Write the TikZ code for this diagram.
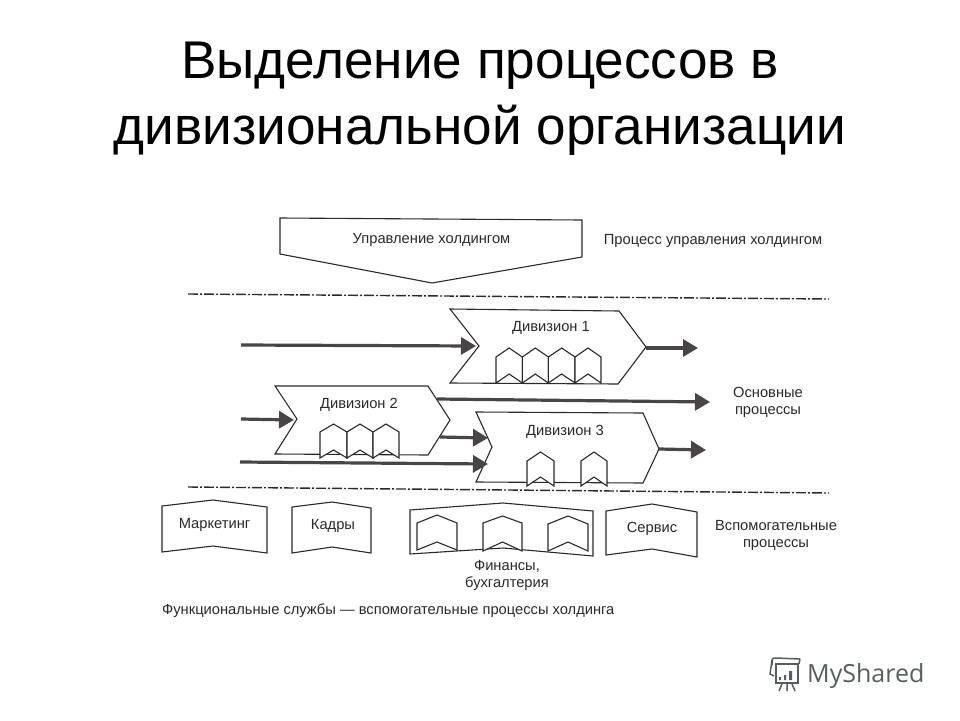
\documentclass[tikz,border=0pt]{standalone}
\usepackage{fontspec}
\setmainfont{Liberation Sans}
\newfontfamily\brandfont{Open Sans}
\usetikzlibrary{arrows.meta}
\definecolor{ink}{HTML}{2A2A2A}
\definecolor{arrowink}{HTML}{4A4545}
\definecolor{brand}{HTML}{55605E}
\tikzset{
  titletext/.style={font=\fontsize{53.1}{60}\selectfont,text=black,inner sep=0pt,anchor=base},
  small/.style={font=\fontsize{14.7}{17.5}\selectfont,text=ink,inner sep=0pt,align=center},
  outline/.style={draw=ink,line width=1.1pt,fill=white,line join=miter},
  hexa/.style={draw=ink,line width=1.1pt,fill=white,line join=miter},
  sepline/.style={draw=ink,line width=1.4pt,dash pattern=on 10pt off 2pt on 2pt off 2pt},
  flow/.style={draw=arrowink,line width=3.2pt,-{Triangle[length=15pt,width=17pt,fill=arrowink]},shorten >=0pt},
  brandline/.style={draw=brand,line width=1.5pt}
}
\newcommand{\hexbox}[6]{%
  \path[hexa] (#1,#5) -- (#1,#4) -- ({(#1+#2)/2},#3) -- (#2,#4) -- (#2,#5) -- ({(#1+#2)/2},#6) -- cycle;}
\begin{document}
\begin{tikzpicture}[x=1pt,y=-1pt]
\useasboundingbox (0,0) rectangle (960,720);
\fill[white] (0,0) rectangle (960,720);

% title
\node[titletext] (t1) at (480,78) {Выделение процессов в};
\node[titletext] (t2) at (480,144) {дивизиональной организации};

% separators
\coordinate (s1a) at (188,294); \coordinate (s1b) at (829,299);
\coordinate (s2a) at (188,487); \coordinate (s2b) at (829,493);
\draw[sepline] (s1a) -- (s1b);
\draw[sepline] (s2a) -- (s2b);

% holding management
\path[outline] (280,218) -- (582,220) -- (582,257) -- (432,283) -- (280,254) -- cycle;
\node[small] (hold) at (431.5,239.5) {Управление холдингом};
\node[small] (holdp) at (713,241) {Процесс управления холдингом};

% named connector ends
\coordinate (d1in) at (241,345);   \coordinate (d1notch) at (476,346);
\coordinate (d1tip) at (646,348);  \coordinate (d1out) at (698,348);
\coordinate (d2in) at (241,419);   \coordinate (d2notch) at (294,420);
\coordinate (d2a) at (437,399);    \coordinate (d2ae) at (710,402);
\coordinate (d2b) at (440,437);    \coordinate (d3n1) at (488,438);
\coordinate (d3in) at (240,462);   \coordinate (d3n2) at (488,464);
\coordinate (d3tip) at (659,449);  \coordinate (d3out) at (706,450);

% division 1
\path[outline] (450,309) -- (619,311) -- (646,347) -- (618,384) -- (450,383) -- (479,346) -- cycle;
\node[small] (d1) at (551,328) {Дивизион 1};
\hexbox{496}{522.3}{348}{357}{383}{374}
\hexbox{522.3}{548.3}{348}{357}{383}{374}
\hexbox{548.3}{575}{348}{357}{383}{374}
\hexbox{575}{601}{348}{357}{383}{374}

% division 2
\path[outline] (275,386) -- (428,386) -- (450,420) -- (428,455) -- (275,454) -- (297,419) -- cycle;
\node[small] (d2) at (359,405) {Дивизион 2};
\hexbox{320}{347}{424}{432}{458}{450}
\hexbox{347}{373}{424}{432}{458}{450}
\hexbox{373}{399}{424}{432}{458}{450}

% division 3
\path[outline] (476,412) -- (643,413) -- (659,449) -- (643,483) -- (476,482) -- (492,447) -- cycle;
\node[small] (d3) at (565,432) {Дивизион 3};
\hexbox{527}{554}{452}{461}{486}{477}
\hexbox{581}{607}{452}{461}{486}{477}

% flows
\draw[flow] (d1in) -- (d1notch);
\draw[flow] (d1tip) -- (d1out);
\draw[flow] (d2in) -- (d2notch);
\draw[flow] (d2a) -- (d2ae);
\draw[flow] (d2b) -- (d3n1);
\draw[flow] (d3in) -- (d3n2);
\draw[flow] (d3tip) -- (d3out);

\node[small] (main) at (768,402.5) {Основные\\процессы};

% support services
\path[outline] (162,506) -- (213,500) -- (267,507) -- (267,553) -- (213,546) -- (162,552) -- cycle;
\node[small] (mk) at (214.5,525) {Маркетинг};
\path[outline] (292,507) -- (332,502) -- (371,508) -- (371,553) -- (332,547) -- (292,553) -- cycle;
\node[small] (kd) at (333,526) {Кадры};
\path[outline] (410,510) -- (503,503) -- (593,511) -- (593,556) -- (503,548) -- (410,554) -- cycle;
\hexbox{417}{457}{515}{523}{550}{542}
\hexbox{483}{522}{516}{523}{551}{542}
\hexbox{548}{588}{516}{524}{551}{542}
\node[small] (fin) at (507,575.5) {Финансы,\\бухгалтерия};
\path[outline] (606,511) -- (652,504) -- (697,512) -- (697,557) -- (652,549) -- (606,555) -- cycle;
\node[small] (srv) at (652,529) {Сервис};
\node[small] (aux) at (776,535.5) {Вспомогательные\\процессы};
\node[small,anchor=west] (cap) at (162,611) {Функциональные службы — вспомогательные процессы холдинга};

% watermark
\node[anchor=west,inner sep=0pt,text=brand,font=\brandfont\fontsize{25}{30}\selectfont] (brandname) at (807,676) {MyShared};
\draw[brandline] (772,665) -- (772,660) .. controls (772,658) and (774,658) .. (776,658) -- (800,659);
\draw[brandline] (772,660) -- (770,674) -- (774,676);
\draw[brandline] (776,664) -- (798,664) -- (798,683) -- (776,683) -- cycle;
\draw[brandline] (800,659) -- (799,664);
\fill[brand] (779,677) rectangle (781,680) (784,675) rectangle (786,680) (789,671) rectangle (792,680);
\draw[brandline] (782,684) -- (779,691) (787,684) -- (787,691) (792,684) -- (795,691);
\end{tikzpicture}
\end{document}
